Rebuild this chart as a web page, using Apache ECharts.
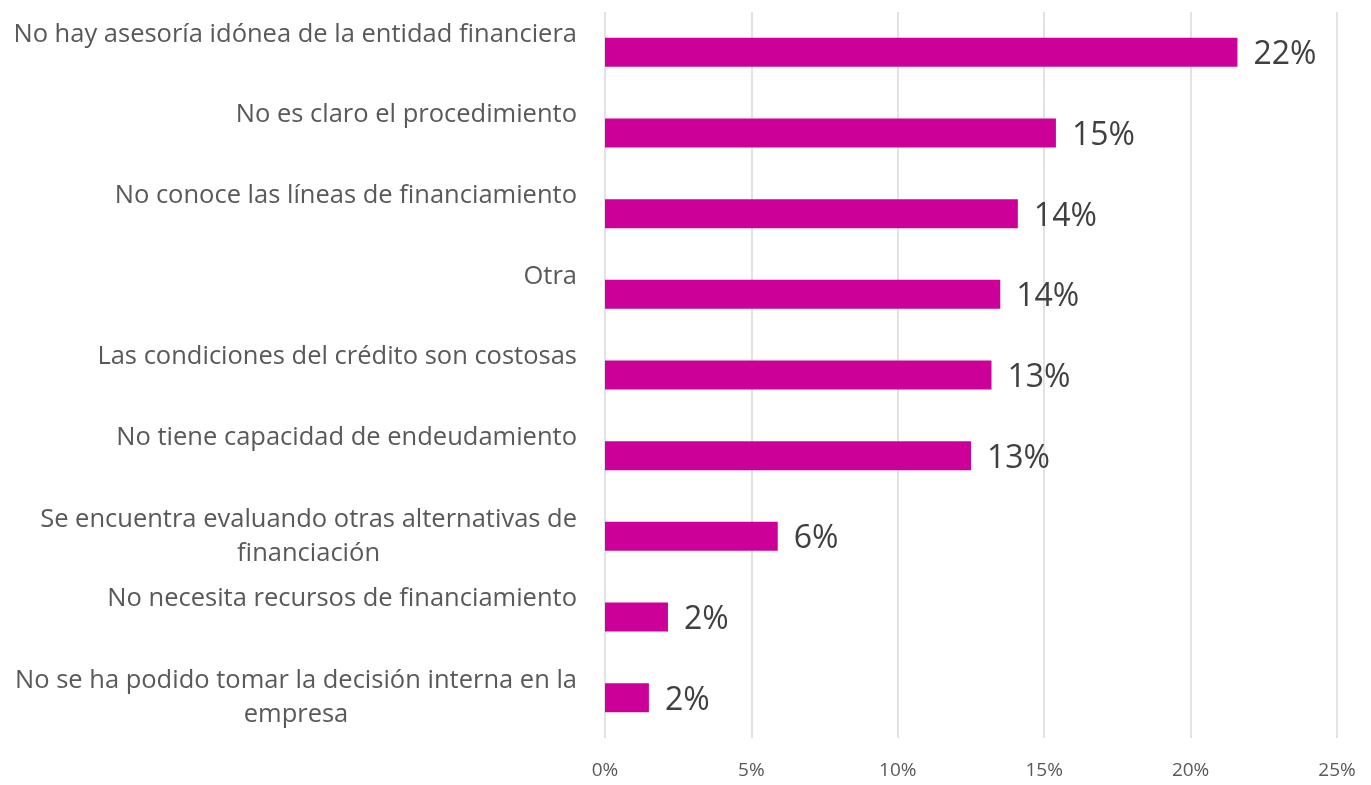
<!DOCTYPE html>
<html>
<head>
<meta charset="utf-8">
<script src="https://cdn.jsdelivr.net/npm/echarts@6/dist/echarts.min.js"></script>
<style>html,body{margin:0;padding:0;background:#fff}#c{width:1371px;height:785px}</style>
</head>
<body>
<div id="c"></div>
<script>
const categories = [
  "No hay asesoría idónea de la entidad financiera",
  "No es claro el procedimiento",
  "No conoce las líneas de financiamiento",
  "Otra",
  "Las condiciones del crédito son costosas",
  "No tiene capacidad de endeudamiento",
  "Se encuentra evaluando otras alternativas de financiación",
  "No necesita recursos de financiamiento",
  "No se ha podido tomar la decisión interna en la empresa"
];
const values = [21.6, 15.4, 14.1, 13.5, 13.2, 12.5, 5.9, 2.15, 1.5];
const tickLabels = ["0%", "5%", "10%", "15%", "20%", "25%"];

function wrapLabel(s) {
  if (s.length > 48) {
    const i = s.lastIndexOf(" ", 48);
    return "{c|" + s.slice(0, i) + "}\n{c|" + s.slice(i + 1) + "}";
  }
  return s + "\n";
}

const chart = echarts.init(document.getElementById('c'));
chart.setOption({
  animation: false,
  grid: { left: 605, right: 34, top: 12, bottom: 47 },
  xAxis: {
    type: 'value', min: 0, max: 25, interval: 5,
    axisLine: { show: false }, axisTick: { show: false },
    splitLine: { show: true, lineStyle: { color: '#d9d9d9', width: 1.5 } },
    axisLabel: {
      margin: 23, color: '#595959', fontSize: 19, fontFamily: 'Open Sans',
      formatter: function (v) { return tickLabels[Math.round(v / 5)]; }
    }
  },
  yAxis: {
    type: 'category', inverse: true, data: categories,
    axisLine: { show: false }, axisTick: { show: false },
    axisLabel: {
      margin: 28, color: '#595959', fontSize: 25.5, fontFamily: 'Open Sans',
      lineHeight: 36, align: 'right',
      formatter: wrapLabel,
      rich: {
        c: { align: 'center', color: '#595959', fontSize: 25.5, fontFamily: 'Open Sans', lineHeight: 34 }
      }
    }
  },
  series: [{
    type: 'bar', data: values, barWidth: 29,
    itemStyle: { color: '#CC0099' },
    label: {
      show: true, position: 'right', distance: 16, offset: [0, 3],
      color: '#404040', fontSize: 32, fontFamily: 'Open Sans',
      formatter: function (p) { return Math.round(p.value) + '%'; }
    }
  }]
});
</script>
</body>
</html>
